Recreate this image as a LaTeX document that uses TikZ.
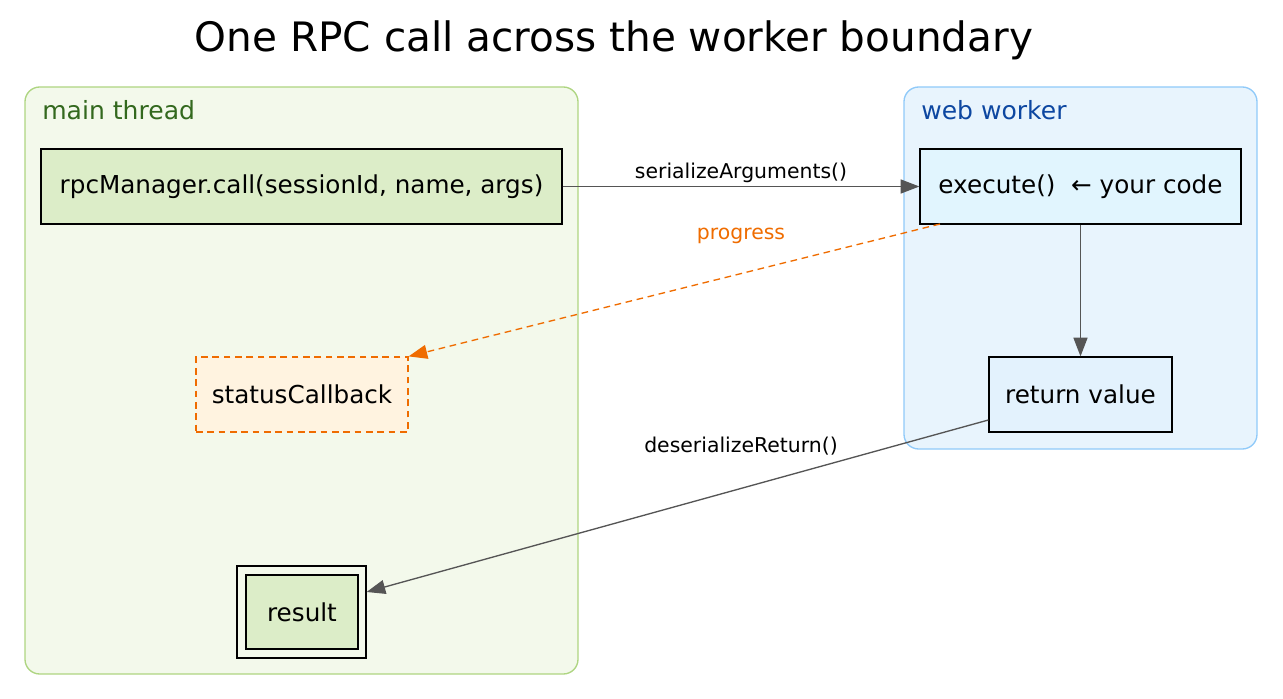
\documentclass[tikz,border=0pt]{standalone}
\usepackage{fontspec}
\setmainfont{DejaVu Sans}
\usetikzlibrary{arrows.meta}
\definecolor{gfill}{HTML}{F3F9EB}\definecolor{gbord}{HTML}{AED581}
\definecolor{bfill}{HTML}{E8F4FD}\definecolor{bbord}{HTML}{90CAF9}
\definecolor{gtxt}{HTML}{33691E}\definecolor{btxt}{HTML}{0D47A1}
\definecolor{ngreen}{HTML}{DCEDC8}\definecolor{ncyan}{HTML}{E1F5FE}
\definecolor{nblue}{HTML}{E3F2FD}\definecolor{norange}{HTML}{FFF3E0}
\definecolor{orng}{HTML}{EF6C00}\definecolor{edge}{HTML}{555555}
\begin{document}
\begin{tikzpicture}[x=0.75pt,y=-0.75pt,
  box/.style={draw=black,line width=0.9pt,minimum height=56.25pt,font=\fontsize{18.5}{22}\selectfont,inner sep=0pt},
  cluster/.style={rounded corners=11pt,line width=1pt},
  arr/.style={draw=edge,line width=1pt,-{Triangle[length=14pt,width=10.5pt]}},
  elab/.style={font=\fontsize{15.3}{18}\selectfont}]
\useasboundingbox (0,0) rectangle (1283,699);
\node[font=\fontsize{30.4}{36}\selectfont] (title) at (614,40) {One RPC call across the worker boundary};
\draw[cluster,fill=gfill,draw=gbord] (25,87) rectangle (578,674);
\draw[cluster,fill=bfill,draw=bbord] (904,87) rectangle (1257,449);
\node[anchor=west,text=gtxt,font=\fontsize{18.8}{22}\selectfont,inner sep=0pt] (mt) at (42,110) {main thread};
\node[anchor=west,text=btxt,font=\fontsize{18.8}{22}\selectfont,inner sep=0pt] (ww) at (921,110) {web worker};
\node[box,fill=ngreen,minimum width=390.75pt] (rpc) at (301.5,186.5) {rpcManager.call(sessionId, name, args)};
\node[box,fill=ncyan,minimum width=240.75pt] (exe) at (1080.5,186.5) {execute()\ \ ← your code};
\node[box,fill=norange,draw=orng,dash pattern=on 5pt off 3.5pt,minimum width=159pt] (sc) at (302,394.5) {statusCallback};
\node[box,fill=nblue,minimum width=137.25pt] (ret) at (1080.5,394.5) {return value};
\node[draw=black,line width=0.9pt,minimum width=96.75pt,minimum height=69pt] (resout) at (301.5,612) {};
\node[box,fill=ngreen,minimum width=84pt,minimum height=55.5pt] (res) at (302,612) {result};
\draw[arr] (rpc.east) -- (exe.west);
\node[elab] (l1) at (741,173) {serializeArguments()};
\draw[arr,draw=orng,dash pattern=on 5pt off 3.5pt,color=orng] (940,224) -- (sc.north east);
\node[elab,text=orng] (l2) at (741,236) {progress};
\draw[arr] (exe.south) -- (ret.north);
\draw[arr] (ret.west|-0,420) -- (resout.east|-0,592);
\node[elab] (l3) at (741,446) {deserializeReturn()};
\end{tikzpicture}
\end{document}
